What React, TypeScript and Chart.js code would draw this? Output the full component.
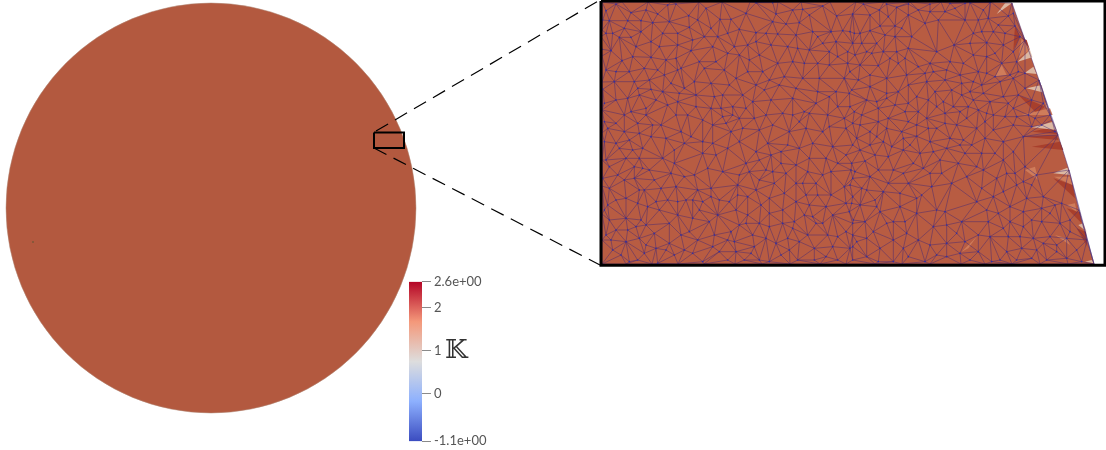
import React, { useEffect, useRef } from "react";
import { Chart, registerables } from "chart.js";

Chart.register(...registerables);

// Colour bar
const colorbarValues = [-1.1, 0, 1, 2, 2.6];
const colorbarLabels = ["-1.1e+00", "0", "1", "2", "2.6e+00"];
const colorbarStops: [number, string][] = [
  [0, "#3b4cc0"], [0.25, "#8db0fe"], [0.5, "#dddddd"], [0.75, "#f4987a"], [1, "#b40426"],
];

// Full disk, read in page pixels
const diskCentre = { x: 211, y: 208 };
const strayDot = { x: 33, y: 242 };
const zoomBox = [[374, 132.5], [404, 132.5], [404, 148], [374, 148], [374, 132.5]];
const upperLeader = [[376, 131], [600, 0]];
const lowerLeader = [[374, 148], [600, 265]];
const insetFrame = [[601, 1], [1105, 1], [1105, 265.3], [601, 265.3], [601, 1]];

// Mesh outline of the enlarged part
const outlineRight = [[1012, 3], [1025, 40], [1039, 80], [1052, 120], [1058, 135], [1069, 170], [1079, 210], [1087, 240], [1094, 264]];
const outlineTopX = [602, 622, 648, 671, 699, 722, 750, 778, 801, 830, 856, 884, 910, 941, 968, 991];
const outlineBottomX = [1068, 1040, 1012, 985, 961, 930, 902, 875, 846, 820, 790, 762, 735, 704, 678, 652, 626, 602];
const outlineLeftY = [240, 214, 186, 160, 133, 110, 82, 56, 30];

const cropNW = [[30,32],[95,62],[150,30],[215,15],[240,12],[278,47],[330,25],[405,58],[450,40],[480,8],[530,8],[570,72],[610,68],[650,95],[705,95],[740,92],[775,100],[20,60],[40,62],[85,85],[135,62],[170,68],[220,65],[280,82],[345,85],[365,110],[415,140],[350,140],[285,152],[245,135],[190,140],[165,125],[105,112],[70,112],[120,140],[45,152],[18,148],[60,215],[100,215],[145,205],[185,210],[210,180],[240,175],[310,185],[360,185],[430,165],[460,180],[490,165],[480,98],[510,100],[545,102],[575,140],[605,145],[640,150],[680,130],[700,155],[755,155],[700,195],[755,190],[55,245],[125,265],[165,268],[205,225],[245,210],[265,265],[325,205],[385,210],[420,235],[455,215],[500,215],[545,190],[565,230],[620,235],[670,235],[745,235],[20,268],[95,295],[130,285],[150,325],[200,275],[250,280],[300,285],[355,290],[380,285],[245,305],[375,325],[410,320],[470,305],[505,270],[525,300],[550,255],[590,295],[625,335],[665,275],[725,320],[775,335],[25,365],[85,345],[150,345],[170,375],[195,375],[240,345],[300,320],[345,325],[380,350],[410,345],[430,355],[475,355],[510,345],[560,340],[590,345],[640,340],[700,380],[745,355],[35,385],[85,395],[130,400],[255,395],[390,370],[405,395],[490,390],[580,395],[630,385],[680,395],[750,385],
  [60,12],[105,38],[185,42],[305,60],[372,58],[430,88],[540,42],[620,28],[680,18],[722,48],[770,42],[640,45],[590,30],[50,100],[15,110],[110,170],[78,182],[165,172],[255,205],[290,120],[325,110],[395,100],[455,135],[525,135],[530,65],[600,105],[665,110],[720,125],[770,130],[725,170],[665,190],[625,190],[590,185],[520,240],[480,255],[440,285],[400,255],[345,250],[295,245],[225,250],[180,300],[115,245],[30,210],[25,310],[60,300],[105,335],[125,370],[60,370],[215,315],[275,345],[320,360],[350,375],[450,325],[440,385],[530,375],[610,365],[660,310],[700,290],[760,280],[695,345],[770,370],[720,275],[600,265],[480,125],[395,160],[135,95],[200,100],[245,100],[160,240],[30,100]];
const cropNE = [[40,12],[110,12],[175,12],[240,12],[300,10],[360,8],[420,8],[88,30],[140,22],[240,35],[315,25],[385,60],[415,55],[475,48],[490,40],[60,92],[90,78],[135,78],[185,110],[225,70],[265,60],[370,100],[430,95],[495,78],[35,130],[80,130],[135,110],[175,145],[260,155],[312,135],[360,130],[410,128],[460,135],[510,110],[15,165],[65,160],[120,175],[165,175],[240,190],[300,185],[370,165],[410,170],[455,190],[500,185],[30,195],[85,197],[145,190],[205,200],[250,215],[330,225],[385,215],[435,230],[480,225],[525,220],[5,270],[60,260],[110,280],[175,255],[230,245],[285,240],[335,250],[395,255],[420,305],[450,245],[490,235],[525,265],[80,305],[110,295],[175,310],[235,300],[280,305],[335,285],[370,300],[400,280],[505,285],[580,310],[35,345],[85,325],[115,355],[165,335],[230,355],[285,340],[330,335],[385,330],[430,345],[490,325],[535,345],[600,345],[60,395],[110,385],[155,395],[200,375],[260,385],[320,375],[380,385],[430,390],[490,375],[545,380],[615,395],
  [15,40],[60,45],[115,50],[175,45],[205,30],[285,35],[345,60],[345,10],[400,30],[445,75],[465,100],[0,95],[30,100],[105,105],[155,85],[50,155],[100,155],[140,155],[395,95],[435,160],[490,155],[340,190],[290,210],[225,220],[170,225],[110,235],[60,225],[25,240],[0,215],[370,245],[410,220],[505,215],[360,275],[305,270],[255,275],[200,290],[145,275],[135,315],[205,335],[260,320],[310,320],[355,320],[410,340],[460,290],[475,310],[545,300],[555,355],[465,350],[405,365],[350,355],[285,370],[235,385],[175,365],[85,365],[30,375],[0,320],[50,300],[575,375],[500,350]];
const cropSW = [[30,75],[60,25],[70,40],[110,45],[140,40],[165,5],[210,10],[265,25],[285,5],[350,25],[395,40],[480,50],[525,60],[575,30],[610,40],[640,70],[690,70],[750,60],[20,130],[40,95],[90,70],[140,100],[160,105],[200,70],[265,125],[295,120],[360,60],[380,110],[430,120],[490,75],[510,105],[555,85],[570,115],[600,145],[660,145],[705,110],[765,105],[40,160],[85,135],[115,130],[145,165],[195,160],[240,155],[305,165],[345,160],[425,150],[490,135],[535,145],[565,175],[620,145],[665,180],[745,155],[770,130],[90,190],[155,215],[180,200],[215,195],[270,195],[290,195],[345,185],[370,195],[425,180],[455,185],[520,190],[600,200],[640,210],[690,215],[750,205],[40,255],[90,250],[135,255],[190,225],[245,240],[310,225],[365,240],[420,225],[455,240],[520,235],[595,260],[650,245],[710,240],[770,265],[60,285],[120,275],[175,295],[255,300],[280,290],[355,300],[405,290],[450,265],[470,300],[520,275],[590,280],[660,265],[695,300],[750,290],[45,315],[75,360],[130,310],[150,330],[220,325],[305,315],[415,320],[475,335],[540,325],[610,320],[655,340],[710,335],[770,335],[100,380],[145,355],[185,385],[235,360],[320,380],[370,350],[420,350],[465,355],[520,380],[580,345],[655,375],[725,375],
  [25,20],[100,15],[130,70],[235,45],[320,55],[320,20],[430,20],[450,85],[515,25],[555,50],[600,90],[650,25],[710,35],[770,30],[725,85],[680,120],[635,110],[65,120],[115,95],[175,135],[225,115],[235,85],[335,100],[460,110],[530,110],[60,195],[35,210],[125,205],[130,165],[245,200],[320,200],[400,200],[480,165],[495,210],[560,225],[630,180],[705,180],[770,185],[760,230],[680,265],[625,240],[560,265],[490,265],[430,270],[340,260],[290,250],[220,265],[150,270],[95,285],[30,300],[25,225],[90,320],[180,340],[265,345],[350,335],[395,315],[510,310],[575,310],[635,300],[725,305],[770,300],[50,345],[125,375],[210,345],[290,355],[395,375],[445,375],[490,375],[555,360],[605,375],[690,365],[770,375]];
const cropSE = [[80,5],[200,4],[300,10],[340,15],[520,5],[30,45],[45,78],[0,150],[35,160],[115,65],[125,35],[160,45],[210,55],[270,75],[290,40],[330,30],[365,30],[405,10],[435,55],[460,75],[525,95],[190,85],[220,100],[325,85],[380,95],[400,105],[470,115],[495,115],[85,105],[115,145],[150,175],[160,115],[240,115],[215,180],[245,155],[305,145],[395,160],[500,150],[580,185],[5,205],[50,165],[80,215],[75,195],[150,215],[200,190],[260,225],[285,230],[335,260],[380,200],[480,215],[520,230],[545,150],[615,210],[635,205],[45,260],[90,230],[130,260],[200,235],[250,275],[415,260],[480,260],[520,275],[575,260],[630,265],[50,310],[130,315],[205,315],[240,330],[320,295],[385,300],[460,280],[510,305],[550,310],[600,305],[650,310],[0,340],[50,365],[85,380],[130,380],[175,365],[225,380],[290,365],[330,355],[385,350],[425,380],[470,350],[515,340],[560,345],[620,350],[680,345],[695,380],
  [20,10],[60,30],[100,20],[160,10],[240,20],[250,50],[180,30],[460,20],[490,50],[395,55],[345,55],[75,60],[5,85],[15,110],[60,125],[130,105],[175,145],[275,115],[350,125],[440,130],[520,140],[560,120],[430,185],[460,170],[530,190],[575,220],[100,170],[30,210],[10,255],[110,265],[70,290],[165,260],[170,295],[290,270],[410,225],[445,235],[545,255],[600,235],[660,255],[660,290],[420,305],[475,305],[290,325],[345,320],[20,320],[90,340],[160,340],[260,360],[360,375],[450,375],[500,375],[545,370],[590,375],[650,370],[580,325],[620,330]];

// Off-colour triangles near the rim, in crop pixels of the right-hand quarters
const paleNE = [[[440,42],[465,10],[487,8]],[[503,185],[540,150],[547,172]],[[525,218],[550,200],[560,222]],[[530,265],[575,255],[582,278]],[[545,382],[610,365],[620,390]],[[585,305],[600,335],[590,322]]];
const paleSE = [[[610,115],[652,98],[660,120]],[[685,270],[700,265],[710,290]],[[705,380],[725,375],[733,385]]];
const midNE = [[[505,175],[515,115],[540,150]],[[435,230],[455,195],[470,225]],[[515,345],[600,325],[608,345]]];
const midSE = [[[612,125],[660,125],[668,150]],[[650,210],[675,205],[680,230]],[[335,350],[380,305],[355,340]],[[525,105],[555,95],[565,135]],[[615,300],[650,310],[660,330]]];
const darkNE = [[[505,285],[585,320],[560,340]],[[545,395],[622,403],[610,380]],[[495,78],[510,110],[490,150]],[[515,115],[530,120],[540,150]]];
const darkSE = [[[610,130],[668,150],[675,190]],[[650,220],[690,232],[695,265]],[[680,280],[708,290],[712,335]],[[545,35],[630,20],[640,45]],[[520,5],[620,0],[625,15]]];

type P = { x: number; y: number };
const fromPairs = (a: number[][]): P[] => a.map(([x, y]) => ({ x, y }));
const fromCrop = (a: number[][], ox: number, oy: number): P[] =>
  a.map(([x, y]) => ({ x: ox + x / 3, y: oy + y / 3 }));

function triangulate(pts: P[]): [number, number][] {
  const all = [...pts, { x: -6000, y: -6000 }, { x: 8000, y: -6000 }, { x: 1000, y: 9000 }];
  const n = pts.length;
  let tris: [number, number, number][] = [[n, n + 1, n + 2]];
  const inCircle = (t: [number, number, number], p: P) => {
    const [a, b, c] = t.map((i) => all[i]);
    const ax = a.x - p.x, ay = a.y - p.y, bx = b.x - p.x, by = b.y - p.y, cx = c.x - p.x, cy = c.y - p.y;
    const det = (ax * ax + ay * ay) * (bx * cy - cx * by) - (bx * bx + by * by) * (ax * cy - cx * ay) + (cx * cx + cy * cy) * (ax * by - bx * ay);
    const orient = (b.x - a.x) * (c.y - a.y) - (b.y - a.y) * (c.x - a.x);
    return orient > 0 ? det > 0 : det < 0;
  };
  for (let i = 0; i < n; i++) {
    const bad = tris.filter((t) => inCircle(t, pts[i]));
    const count = new Map<string, number>();
    bad.forEach((t) => {
      [[t[0], t[1]], [t[1], t[2]], [t[2], t[0]]].forEach(([u, v]) => {
        const k = u < v ? `${u},${v}` : `${v},${u}`;
        count.set(k, (count.get(k) || 0) + 1);
      });
    });
    tris = tris.filter((t) => !bad.includes(t));
    count.forEach((c, k) => {
      if (c === 1) {
        const [u, v] = k.split(",").map(Number);
        tris.push([u, v, i]);
      }
    });
  }
  const edges = new Map<string, [number, number]>();
  tris.forEach((t) => {
    [[t[0], t[1]], [t[1], t[2]], [t[2], t[0]]].forEach(([u, v]) => {
      if (u < n && v < n) edges.set(u < v ? `${u},${v}` : `${v},${u}`, [u, v]);
    });
  });
  return [...edges.values()];
}

const interior: P[] = [
  ...fromCrop(cropNW, 596, 0), ...fromCrop(cropNE, 850, 0),
  ...fromCrop(cropSW, 596, 135), ...fromCrop(cropSE, 850, 135),
].filter((p, i, arr) => !arr.slice(0, i).some((q) => Math.hypot(q.x - p.x, q.y - p.y) < 2.5));

const outline: P[] = [
  ...outlineTopX.map((x) => ({ x, y: 2 })),
  ...fromPairs(outlineRight),
  ...outlineBottomX.map((x) => ({ x, y: 264 })),
  ...outlineLeftY.map((y) => ({ x: 602, y })),
];

const meshPoints = [...interior, ...outline];
const meshEdges: P[] = triangulate(meshPoints).flatMap(([a, b]) => [meshPoints[a], meshPoints[b], { x: NaN, y: NaN }]);

const path = (data: P[], color: string, width: number, order: number, extra: object = {}) => ({
  data, order, showLine: true, pointRadius: 0, borderColor: color, borderWidth: width, tension: 0, ...extra,
});
const patch = (tri: number[][], ox: number, oy: number, color: string, order: number) =>
  path(fromCrop(tri, ox, oy), color, 0, order, { fill: "shape", backgroundColor: color });

export default function App() {
  const mainRef = useRef<HTMLCanvasElement>(null);
  const barRef = useRef<HTMLCanvasElement>(null);

  useEffect(() => {
    const patches = [
      ...paleNE.map((t) => patch(t, 850, 0, "#dcb8a2", 80)),
      ...paleSE.map((t) => patch(t, 850, 135, "#dcb8a2", 80)),
      ...midNE.map((t) => patch(t, 850, 0, "#cf7c5a", 80)),
      ...midSE.map((t) => patch(t, 850, 135, "#cf7c5a", 80)),
      ...darkNE.map((t) => patch(t, 850, 0, "#a83f2c", 80)),
      ...darkSE.map((t) => patch(t, 850, 135, "#a83f2c", 80)),
    ];
    const main = new Chart(mainRef.current!, {
      type: "scatter",
      data: {
        datasets: [
          { data: [diskCentre], order: 100, pointRadius: 205, pointBackgroundColor: "#b3593f", pointBorderColor: "#b08a78", pointBorderWidth: 0.5, clip: false },
          { data: [strayDot], order: 99, pointRadius: 0.8, pointBackgroundColor: "#553", pointBorderWidth: 0 },
          path(fromPairs(zoomBox), "#000", 2, 98, { borderJoinStyle: "miter" }),
          path(fromPairs(upperLeader), "#000", 1.2, 97, { borderDash: [14, 8] }),
          path(fromPairs(lowerLeader), "#000", 1.2, 97, { borderDash: [14, 8] }),
          path(outline, "#b85c42", 0, 90, { fill: "shape", backgroundColor: "#b85c42" }),
          ...patches,
          path(meshEdges, "rgba(72,40,115,0.62)", 0.8, 70, { borderDash: [4000, 1] }),
          { data: interior, order: 60, pointRadius: 0.8, pointBackgroundColor: "#3030a8", pointBorderWidth: 0 },
          path(fromPairs(insetFrame), "#000", 3, 10, { borderJoinStyle: "miter", clip: false }),
        ] as any,
      },
      options: {
        animation: false,
        responsive: false,
        devicePixelRatio: 1,
        events: [],
        layout: { padding: 0, autoPadding: false },
        plugins: { legend: { display: false }, tooltip: { enabled: false } },
        scales: {
          x: { type: "linear", min: 0, max: 1106, display: false },
          y: { type: "linear", min: 0, max: 450, reverse: true, display: false },
        },
      },
    });

    const bar = new Chart(barRef.current!, {
      type: "bar",
      data: {
        labels: ["K"],
        datasets: [{
          data: [[colorbarValues[0], colorbarValues[colorbarValues.length - 1]]] as any,
          barPercentage: 1,
          categoryPercentage: 1,
          borderWidth: 0,
          backgroundColor: (ctx: any) => {
            const area = ctx.chart.chartArea;
            if (!area) return "#ddd";
            const g = ctx.chart.ctx.createLinearGradient(0, area.bottom, 0, area.top);
            colorbarStops.forEach(([s, c]) => g.addColorStop(s, c));
            return g;
          },
        }],
      },
      options: {
        animation: false,
        responsive: false,
        devicePixelRatio: 1,
        events: [],
        layout: { padding: { top: 5, bottom: 5, left: 0, right: 0 }, autoPadding: false },
        plugins: { legend: { display: false }, tooltip: { enabled: false } },
        scales: {
          x: { display: false },
          y: {
            position: "right",
            min: colorbarValues[0],
            max: colorbarValues[colorbarValues.length - 1],
            border: { display: false },
            grid: { drawOnChartArea: false, drawTicks: true, tickLength: 9, color: "#8a8a8a", lineWidth: 1 },
            afterBuildTicks: (s: any) => { s.ticks = colorbarValues.map((value) => ({ value })); },
            afterFit: (s: any) => { s.width = 78; },
            ticks: {
              autoSkip: false,
              padding: 3,
              color: "#555",
              font: { family: "Lato", size: 13 },
              callback: (v: any) => colorbarLabels[colorbarValues.indexOf(Number(v))] ?? "",
            },
          },
        },
      },
    } as any);

    return () => { main.destroy(); bar.destroy(); };
  }, []);

  return (
    <div style={{ position: "absolute", left: 0, top: 0, width: 1106, height: 450, overflow: "hidden", background: "#fff" }}>
      <canvas ref={mainRef} width={1106} height={450} style={{ position: "absolute", left: 0, top: 0, display: "block" }} />
      <canvas ref={barRef} width={91} height={181} style={{ position: "absolute", left: 409, top: 271, display: "block" }} />
      <span style={{ position: "absolute", left: 445, top: 333, fontFamily: "'DejaVu Serif','DejaVu Sans',serif", fontSize: 26, lineHeight: "32px", color: "#333" }}>𝕂</span>
    </div>
  );
}
